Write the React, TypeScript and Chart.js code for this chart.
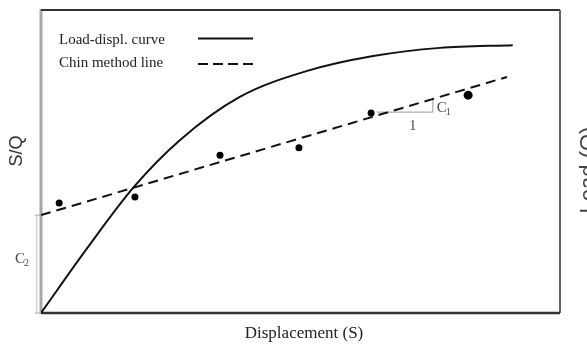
import React, { useEffect, useRef } from "react";
import { Chart, registerables } from "chart.js";

Chart.register(...registerables);

// Load-displacement curve (normalized units)
const curveX = [0, 8.9, 17.9, 26.8, 38.3, 51.3, 64.0, 76.9, 90.9];
const curveY = [0, 21.4, 41.6, 57.1, 71.3, 79.9, 84.8, 87.5, 88.4];
// Chin method straight line
const chinX = [0, 89.8];
const chinY = [32.3, 77.9];
// Observed S/Q points
const obsX = [3.5, 18.1, 34.5, 49.7, 63.6, 82.3];
const obsY = [36.3, 38.3, 52.1, 54.5, 66.0, 71.9];
const obsR = [3.5, 3.5, 3.5, 3.5, 3.5, 4.5];
// slope triangle (1 : C1)
const triX = [64.7, 75.5, 75.5];
const triY = [66.3, 66.3, 70.3];
// intercept bracket C2
const c2X = [-0.8, -0.8];
const c2Y = [0, 32.3];

const legendLabels = ["Load-displ. curve", "Chin method line"];
const xTitle = "Displacement (S)";
const yTitle = "S/Q";
const y2Title = "Load (Q)";

const SERIF = "'Liberation Serif', 'Times New Roman', serif";
const SANS = "'Liberation Sans', Arial, sans-serif";

const pts = (xs: number[], ys: number[]) => xs.map((x, i) => ({ x, y: ys[i] }));

const decor = {
  id: "decor",
  beforeDatasetsDraw(chart: any) {
    const { ctx, chartArea: a } = chart;
    ctx.save();
    ctx.strokeStyle = "#a8a8a8";
    ctx.lineWidth = 3;
    ctx.beginPath();
    ctx.moveTo(a.left, a.top - 1);
    ctx.lineTo(a.left, a.bottom + 1);
    ctx.stroke();
    ctx.strokeStyle = "#333";
    ctx.lineWidth = 2;
    ctx.beginPath();
    ctx.moveTo(a.left, a.top);
    ctx.lineTo(a.right, a.top);
    ctx.stroke();
    ctx.strokeStyle = "#666";
    ctx.lineWidth = 2;
    ctx.beginPath();
    ctx.moveTo(a.right, a.top);
    ctx.lineTo(a.right, a.bottom);
    ctx.stroke();
    ctx.strokeStyle = "#333";
    ctx.lineWidth = 2.5;
    ctx.beginPath();
    ctx.moveTo(a.left, a.bottom);
    ctx.lineTo(a.right, a.bottom);
    ctx.stroke();
    ctx.restore();
  },
  afterDraw(chart: any) {
    const { ctx, chartArea: a, scales } = chart;
    const xs = scales.x;
    const ys = scales.y;
    ctx.save();
    ctx.fillStyle = "#222";
    // legend
    ctx.font = `15px ${SERIF}`;
    ctx.textBaseline = "alphabetic";
    ctx.textAlign = "left";
    ctx.fillText(legendLabels[0], 59, 44);
    ctx.fillText(legendLabels[1], 59, 67);
    ctx.strokeStyle = "#111";
    ctx.lineWidth = 2;
    ctx.beginPath();
    ctx.moveTo(198, 38.5);
    ctx.lineTo(253, 38.5);
    ctx.stroke();
    ctx.setLineDash([10, 5]);
    ctx.beginPath();
    ctx.moveTo(198, 64);
    ctx.lineTo(253, 64);
    ctx.stroke();
    ctx.setLineDash([]);

    // x title
    ctx.font = `17px ${SERIF}`;
    ctx.textAlign = "center";
    ctx.fillText(xTitle, 304, 338);

    // y title
    ctx.save();
    ctx.translate(22, 151);
    ctx.rotate(-Math.PI / 2);
    ctx.font = `18px ${SANS}`;
    ctx.textAlign = "center";
    ctx.fillStyle = "#333";
    ctx.fillText(yTitle, 0, 0);
    ctx.restore();

    // right title (cut off)
    ctx.save();
    ctx.translate(595, 170);
    ctx.rotate(-Math.PI / 2);
    ctx.font = `22px ${SANS}`;
    ctx.textAlign = "center";
    ctx.fillStyle = "#444";
    ctx.fillText(y2Title, 0, 0);
    ctx.restore();

    // C2 label
    ctx.textAlign = "left";
    ctx.fillStyle = "#444";
    ctx.font = `15px ${SERIF}`;
    ctx.fillText("C", 15, 263);
    ctx.font = `10px ${SERIF}`;
    ctx.fillText("2", 24, 266);

    // C1 label
    const tx = xs.getPixelForValue(triX[2]);
    const ty = ys.getPixelForValue((triY[1] + triY[2]) / 2);
    ctx.font = `15px ${SERIF}`;
    ctx.fillText("C", tx + 4, ty + 6);
    ctx.font = `10px ${SERIF}`;
    ctx.fillText("1", tx + 13, ty + 9);
    const mx = xs.getPixelForValue((triX[0] + triX[1]) / 2);
    const my = ys.getPixelForValue(triY[0]);
    ctx.font = `14px ${SERIF}`;
    ctx.textAlign = "center";
    ctx.fillText("1", mx + 8, my + 18);

    // C2 bracket ticks
    const bx = xs.getPixelForValue(c2X[0]);
    ctx.strokeStyle = "#aaa";
    ctx.lineWidth = 1;
    [c2Y[0], c2Y[1]].forEach((v) => {
      const py = ys.getPixelForValue(v);
      ctx.beginPath();
      ctx.moveTo(bx - 2, py);
      ctx.lineTo(a.left, py);
      ctx.stroke();
    });
    ctx.restore();
  },
};

export default function App() {
  const ref = useRef<HTMLCanvasElement | null>(null);
  useEffect(() => {
    if (!ref.current) return;
    const chart = new Chart(ref.current, {
      type: "scatter",
      data: {
        datasets: [
          {
            label: legendLabels[0],
            data: pts(curveX, curveY),
            showLine: true,
            borderColor: "#111",
            borderWidth: 2,
            pointRadius: 0,
            cubicInterpolationMode: "monotone",
            fill: false,
          },
          {
            label: legendLabels[1],
            data: pts(chinX, chinY),
            showLine: true,
            borderColor: "#111",
            borderWidth: 2,
            borderDash: [10, 6],
            pointRadius: 0,
            fill: false,
          },
          {
            label: "points",
            data: pts(obsX, obsY),
            showLine: false,
            backgroundColor: "#000",
            borderColor: "#000",
            pointRadius: obsR,
            pointBorderWidth: 0,
          },
          {
            label: "slope",
            data: pts(triX, triY),
            showLine: true,
            borderColor: "#999",
            borderWidth: 1,
            pointRadius: 0,
            tension: 0,
          },
          {
            label: "c2",
            data: pts(c2X, c2Y),
            showLine: true,
            borderColor: "#bbb",
            borderWidth: 1,
            pointRadius: 0,
            clip: false,
          },
        ],
      } as any,
      options: {
        animation: false,
        responsive: false,
        devicePixelRatio: 1,
        layout: { padding: { left: 41, top: 10, right: 27, bottom: 38 } },
        plugins: { legend: { display: false }, tooltip: { enabled: false } },
        scales: {
          x: { type: "linear", display: false, min: 0, max: 100 },
          y: { type: "linear", display: false, min: 0, max: 100 },
        },
      } as any,
      plugins: [decor],
    });
    return () => chart.destroy();
  }, []);
  return (
    <div style={{ position: "fixed", left: 0, top: 0, width: 587, height: 351, background: "#fff" }}>
      <canvas ref={ref} width={587} height={351} style={{ width: 587, height: 351 }} />
    </div>
  );
}
